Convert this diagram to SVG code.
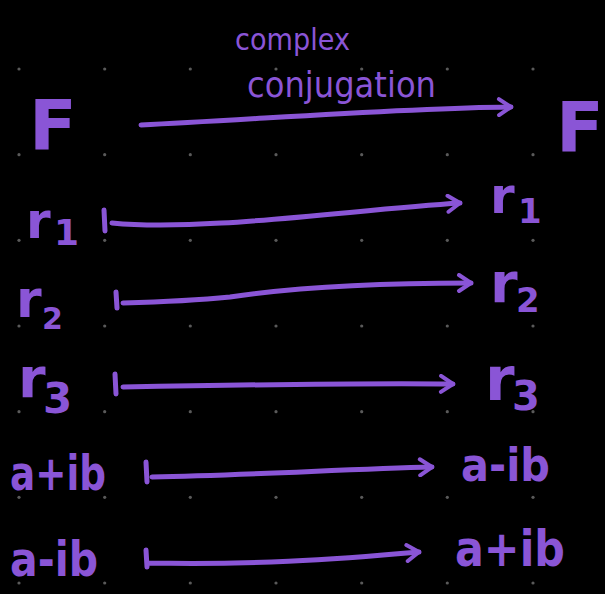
<svg xmlns="http://www.w3.org/2000/svg" width="605" height="594" viewBox="0 0 605 594">
<style>
.lbl{font-family:"DejaVu Sans",sans-serif;fill:#8a55d6;font-weight:bold;}
.el{font-family:"DejaVu Sans",sans-serif;fill:#8a55d6;}
.cn{fill:none;stroke:#8a55d6;stroke-width:5;stroke-linecap:round;stroke-linejoin:round;}
.dot{fill:#5a5a5a;}
</style>
<defs>
<marker id="ah" viewBox="0 0 20 20" refX="17" refY="10" markerWidth="20" markerHeight="20" markerUnits="userSpaceOnUse" orient="auto">
<path d="M5,2 L17,10 L5,18" fill="none" stroke="#8a55d6" stroke-width="4" stroke-linecap="round" stroke-linejoin="round"/>
</marker>
</defs>
<rect width="605" height="594" fill="#000"/>
<g id="grid">
<circle class="dot" cx="19" cy="69" r="1.6"/><circle class="dot" cx="104.7" cy="69" r="1.6"/><circle class="dot" cx="190.3" cy="69" r="1.6"/><circle class="dot" cx="276" cy="69" r="1.6"/><circle class="dot" cx="361.7" cy="69" r="1.6"/><circle class="dot" cx="447.3" cy="69" r="1.6"/><circle class="dot" cx="533" cy="69" r="1.6"/>
<circle class="dot" cx="19" cy="154.7" r="1.6"/><circle class="dot" cx="104.7" cy="154.7" r="1.6"/><circle class="dot" cx="190.3" cy="154.7" r="1.6"/><circle class="dot" cx="276" cy="154.7" r="1.6"/><circle class="dot" cx="361.7" cy="154.7" r="1.6"/><circle class="dot" cx="447.3" cy="154.7" r="1.6"/><circle class="dot" cx="533" cy="154.7" r="1.6"/>
<circle class="dot" cx="19" cy="240.3" r="1.6"/><circle class="dot" cx="104.7" cy="240.3" r="1.6"/><circle class="dot" cx="190.3" cy="240.3" r="1.6"/><circle class="dot" cx="276" cy="240.3" r="1.6"/><circle class="dot" cx="361.7" cy="240.3" r="1.6"/><circle class="dot" cx="447.3" cy="240.3" r="1.6"/><circle class="dot" cx="533" cy="240.3" r="1.6"/>
<circle class="dot" cx="19" cy="326" r="1.6"/><circle class="dot" cx="104.7" cy="326" r="1.6"/><circle class="dot" cx="190.3" cy="326" r="1.6"/><circle class="dot" cx="276" cy="326" r="1.6"/><circle class="dot" cx="361.7" cy="326" r="1.6"/><circle class="dot" cx="447.3" cy="326" r="1.6"/><circle class="dot" cx="533" cy="326" r="1.6"/>
<circle class="dot" cx="19" cy="411.7" r="1.6"/><circle class="dot" cx="104.7" cy="411.7" r="1.6"/><circle class="dot" cx="190.3" cy="411.7" r="1.6"/><circle class="dot" cx="276" cy="411.7" r="1.6"/><circle class="dot" cx="361.7" cy="411.7" r="1.6"/><circle class="dot" cx="447.3" cy="411.7" r="1.6"/><circle class="dot" cx="533" cy="411.7" r="1.6"/>
<circle class="dot" cx="19" cy="497.3" r="1.6"/><circle class="dot" cx="104.7" cy="497.3" r="1.6"/><circle class="dot" cx="190.3" cy="497.3" r="1.6"/><circle class="dot" cx="276" cy="497.3" r="1.6"/><circle class="dot" cx="361.7" cy="497.3" r="1.6"/><circle class="dot" cx="447.3" cy="497.3" r="1.6"/><circle class="dot" cx="533" cy="497.3" r="1.6"/>
<circle class="dot" cx="19" cy="583" r="1.6"/><circle class="dot" cx="104.7" cy="583" r="1.6"/><circle class="dot" cx="190.3" cy="583" r="1.6"/><circle class="dot" cx="276" cy="583" r="1.6"/><circle class="dot" cx="361.7" cy="583" r="1.6"/><circle class="dot" cx="447.3" cy="583" r="1.6"/><circle class="dot" cx="533" cy="583" r="1.6"/>
</g>
<g id="connectors">
<path class="cn" d="M141,125 C250,120 400,108 511,107" marker-end="url(#ah)"/>
<path class="cn" d="M104,210 L105,231 M112,223 C200,232 350,210 460,203" marker-end="url(#ah)"/>
<path class="cn" d="M116,292 L117,308 M123,303 C160,302 200,300 230,297 C290,288 380,283 471,283" marker-end="url(#ah)"/>
<path class="cn" d="M115,374 L116,394 M123,387 C230,385 350,383 453,384" marker-end="url(#ah)"/>
<path class="cn" d="M146,462 L147,482 M152,477 C250,475 350,469 432,467" marker-end="url(#ah)"/>
<path class="cn" d="M146,550 L147,567 M149,563 C250,565 330,560 419,552" marker-end="url(#ah)"/>
</g>
<g id="edge-label">
<text class="el" x="235" y="50" font-size="31" textLength="115" lengthAdjust="spacingAndGlyphs">complex</text>
<text class="el" x="247" y="97" font-size="35" textLength="189" lengthAdjust="spacingAndGlyphs">conjugation</text>
</g>
<g id="F-left"><text class="lbl" x="29" y="150" font-size="70">F</text></g>
<g id="F-right"><text class="lbl" x="556" y="152" font-size="70">F</text></g>
<g id="r1-left"><text class="lbl" x="26" y="238" font-size="50">r<tspan x="54" y="245" font-size="36">1</tspan></text></g>
<g id="r1-right"><text class="lbl" x="490" y="213" font-size="50">r<tspan x="518" y="223" font-size="34">1</tspan></text></g>
<g id="r2-left"><text class="lbl" x="16" y="317" font-size="52">r<tspan x="42" y="329" font-size="30">2</tspan></text></g>
<g id="r2-right"><text class="lbl" x="490" y="302" font-size="56">r<tspan x="516" y="312" font-size="34">2</tspan></text></g>
<g id="r3-left"><text class="lbl" x="18" y="397" font-size="56">r<tspan x="43" y="413" font-size="42">3</tspan></text></g>
<g id="r3-right"><text class="lbl" x="485" y="400" font-size="60">r<tspan x="512" y="410" font-size="40">3</tspan></text></g>
<g id="apib-left"><text class="lbl" x="10" y="490" font-size="48" textLength="96" lengthAdjust="spacingAndGlyphs">a+ib</text></g>
<g id="amib-right"><text class="lbl" x="461" y="481" font-size="46" textLength="89" lengthAdjust="spacingAndGlyphs">a-ib</text></g>
<g id="amib-left"><text class="lbl" x="10" y="576" font-size="48" textLength="88" lengthAdjust="spacingAndGlyphs">a-ib</text></g>
<g id="apib-right"><text class="lbl" x="455" y="566" font-size="50" textLength="110" lengthAdjust="spacingAndGlyphs">a+ib</text></g>
</svg>
